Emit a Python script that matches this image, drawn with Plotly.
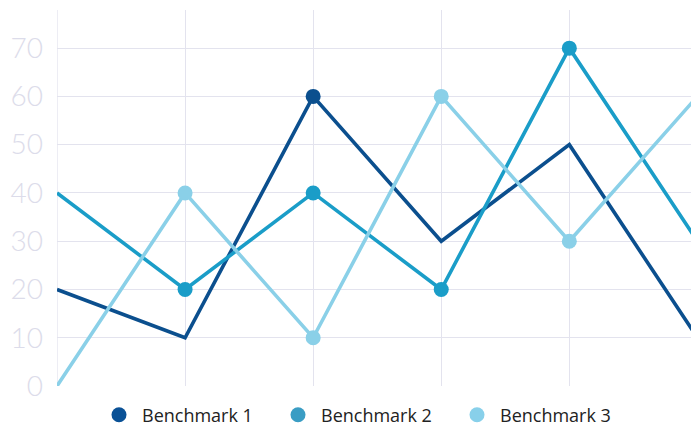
import plotly.graph_objects as go

categories = [0, 1, 2, 3, 4, 5]
series_names = ["Benchmark 1", "Benchmark 2", "Benchmark 3"]
bench1 = [20, 10, 60, 30, 50, 10]
bench2 = [40, 20, 40, 20, 70, 30]
bench3 = [0, 40, 10, 60, 30, 60]
y_ticks = [0, 10, 20, 30, 40, 50, 60, 70]

# which points carry a visible marker (style only)
marker_on = [
    [False, False, True, False, False, False],
    [False, True, True, True, True, False],
    [False, True, True, True, True, False],
]
line_colors = ["#0b4f8e", "#1a9dc8", "#8ad0e8"]
legend_colors = ["#0a5196", "#3a9dc4", "#88d0ea"]

fig = go.Figure()
for name, vals, col, mk in zip(series_names, [bench1, bench2, bench3], line_colors, marker_on):
    fig.add_trace(go.Scatter(
        x=categories, y=vals, mode="lines+markers", name=name,
        line=dict(color=col, width=3.6),
        marker=dict(size=[15 if m else 0 for m in mk], color=col, opacity=1,
                    line=dict(width=0)),
        showlegend=False, cliponaxis=True, hoverinfo="skip",
    ))
for name, col in zip(series_names, legend_colors):
    fig.add_trace(go.Scatter(
        x=[None], y=[None], mode="markers", name=name,
        marker=dict(size=15, color=col, line=dict(width=0)),
    ))

fig.update_layout(
    width=691, height=428,
    margin=dict(l=57, r=0, t=10, b=42, autoexpand=False),
    paper_bgcolor="white", plot_bgcolor="white",
    font=dict(family="Open Sans", color="#222222"),
    legend=dict(orientation="h", x=96 / 691, xanchor="left", xref="container",
                y=13 / 428, yanchor="middle", yref="container",
                font=dict(size=18, family="Open Sans", color="#222222"),
                itemwidth=36, entrywidth=128, entrywidthmode="pixels"),
    showlegend=True,
)
fig.update_xaxes(range=[0, 4.95], tickvals=categories, showticklabels=False,
                 showgrid=True, gridcolor="#e3e3ee", gridwidth=1.3,
                 zeroline=False, showline=False, automargin=False)
fig.update_yaxes(range=[0, 77.9], tickvals=y_ticks, showgrid=True,
                 gridcolor="#e3e3ee", gridwidth=1.3, zeroline=False,
                 tickfont=dict(size=28, family="Lato", color="#dcdcea", weight=300),
                 ticklabelstandoff=13, showline=False, automargin=False)
fig.add_shape(type="line", xref="x", yref="paper", x0=0, x1=0, y0=0, y1=1,
              line=dict(color="#e3e3ee", width=1.3), layer="below")
fig.write_html("out.html", config={"displayModeBar": False},
               post_script="document.body.style.margin='0';document.body.style.overflow='hidden';")
